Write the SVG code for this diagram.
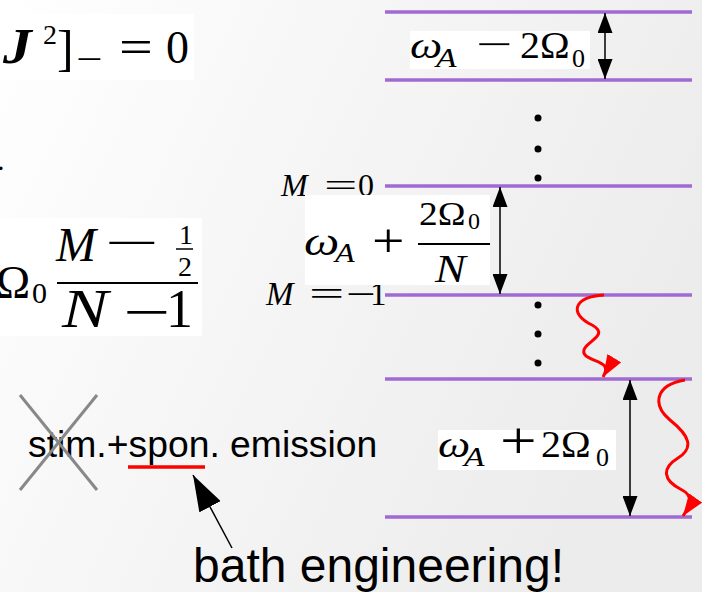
<svg xmlns="http://www.w3.org/2000/svg" width="702" height="592" viewBox="0 0 702 592">
<defs>
<linearGradient id="bg" x1="0" y1="0" x2="1" y2="0.4">
<stop offset="0" stop-color="#ffffff"/>
<stop offset="0.45" stop-color="#f6f6f6"/>
<stop offset="1" stop-color="#ececec"/>
</linearGradient>
<marker id="ah" viewBox="0 0 20 15" refX="20" refY="7.5" markerWidth="20" markerHeight="15" markerUnits="userSpaceOnUse" orient="auto-start-reverse">
<path d="M0,0 L20,7.5 L0,15 z" fill="#000"/>
</marker>
<marker id="rh" viewBox="0 0 22 16" refX="22" refY="8" markerWidth="22" markerHeight="16" markerUnits="userSpaceOnUse" orient="auto">
<path d="M0,0 L22,8 L0,16 z" fill="#ff0000"/>
</marker>
<marker id="bh" viewBox="0 0 36 24" refX="36" refY="12" markerWidth="36" markerHeight="24" markerUnits="userSpaceOnUse" orient="auto">
<path d="M0,0 L36,12 L0,24 z" fill="#000"/>
</marker>
<style>
.m{font-family:"Liberation Serif","DejaVu Serif",serif;fill:#000}
.i{font-style:italic}
.s{font-family:"Liberation Sans",Arial,sans-serif;fill:#000}
.lvl{stroke:#a06ad2;stroke-width:3.5}
.dbl{stroke:#000;stroke-width:1.5;marker-start:url(#ah);marker-end:url(#ah)}
.wave{fill:none;stroke:#ff0000;stroke-width:3;marker-end:url(#rh)}
.box{fill:#ffffff}
</style>
</defs>
<rect width="702" height="592" fill="url(#bg)"/>

<g id="formula-top">
<rect class="box" x="0" y="14" width="194" height="66"/>
<text class="m i" transform="translate(3 63) scale(1.15 1)" font-size="50" font-weight="bold">J</text>
<text class="m" x="43" y="44" font-size="28">2</text>
<text class="m" x="57" y="65" font-size="50">]</text>
<text class="m" transform="translate(76 71) scale(1.3 1)" font-size="36">−</text>
<text class="m" transform="translate(119 63) scale(1.25 1)" font-size="48">=</text>
<text class="m" x="166" y="63" font-size="46">0</text>
</g>

<g id="formula-mid">
<text class="m" x="-3" y="170" font-size="30">.</text>
<rect class="box" x="0" y="218" width="202" height="118"/>
<text class="m" x="-4" y="298" font-size="46">Ω</text>
<text class="m" x="32" y="303" font-size="30">0</text>
<text class="m i" x="56" y="261" font-size="48">M</text>
<text class="m" transform="translate(105 258) scale(2.1 1)" font-size="46">−</text>
<text class="m" x="179" y="244" font-size="28">1</text>
<line x1="176" y1="249" x2="193" y2="249" stroke="#000" stroke-width="1.5"/>
<text class="m" x="178" y="276" font-size="28">2</text>
<line x1="57" y1="283" x2="198" y2="283" stroke="#000" stroke-width="2"/>
<text class="m i" transform="translate(62 327) scale(1.28 1)" font-size="54">N</text>
<text class="m" transform="translate(123 330) scale(1.55 1)" font-size="54">−</text>
<text class="m" x="166" y="327" font-size="54">1</text>
</g>

<g id="stim-spon">
<text class="s" x="28" y="457" font-size="37.3">stim.+spon. emission</text>
<line x1="128" y1="467" x2="205" y2="467" stroke="#ff0000" stroke-width="3.5"/>
<line x1="20" y1="395" x2="97" y2="490" stroke="#888" stroke-width="3"/>
<line x1="97" y1="395" x2="20" y2="490" stroke="#888" stroke-width="3"/>
</g>

<g id="bath">
<text class="s" x="193" y="582" font-size="48">bath engineering!</text>
</g>

<g id="levels">
<line class="lvl" x1="385" y1="12" x2="692" y2="12"/>
<line class="lvl" x1="385" y1="80" x2="692" y2="80"/>
<line class="lvl" x1="385" y1="186" x2="692" y2="186"/>
<line class="lvl" x1="385" y1="295" x2="692" y2="295"/>
<line class="lvl" x1="385" y1="379" x2="692" y2="379"/>
<line class="lvl" x1="385" y1="517" x2="692" y2="517"/>
</g>

<g id="dots" fill="#000">
<circle cx="538" cy="118" r="3.5"/>
<circle cx="538" cy="149" r="3.5"/>
<circle cx="538" cy="178" r="3.5"/>
<circle cx="538" cy="305" r="3.5"/>
<circle cx="538" cy="334" r="3.5"/>
<circle cx="538" cy="363" r="3.5"/>
</g>

<g id="label-top">
<rect class="box" x="410" y="31" width="180" height="38"/>
<text class="m i" transform="translate(410 58) scale(1.2 1)" font-size="38">ω</text>
<text class="m i" transform="translate(436 67) scale(1.2 1)" font-size="28">A</text>
<text class="m" transform="translate(476 57) scale(1.7 1)" font-size="38">−</text>
<text class="m" transform="translate(520 58) scale(1.05 1)" font-size="38">2Ω</text>
<text class="m" x="572" y="67" font-size="26">0</text>
</g>

<g id="label-m0">
<text class="m i" x="281" y="196" font-size="32">M</text>
<text class="m" transform="translate(324 196) scale(1.85 1)" font-size="32">=</text>
<text class="m" x="358" y="196" font-size="32">0</text>
</g>
<g id="label-m1">
<text class="m i" x="266" y="305" font-size="33">M</text>
<text class="m" transform="translate(309 305) scale(1.9 1)" font-size="33">=</text>
<text class="m" transform="translate(346 305) scale(1.6 1)" font-size="33">−</text>
<text class="m" x="370" y="305" font-size="33">1</text>
</g>

<g id="label-mid">
<rect class="box" x="305" y="195" width="185" height="90"/>
<text class="m i" transform="translate(304 255) scale(1.25 1)" font-size="40">ω</text>
<text class="m i" transform="translate(335 262) scale(1.15 1)" font-size="28">A</text>
<text class="m" transform="translate(372 257) scale(1.2 1)" font-size="48">+</text>
<text class="m" transform="translate(419 225) scale(1.1 1)" font-size="34">2Ω</text>
<text class="m" x="468" y="229" font-size="24">0</text>
<line x1="418" y1="244" x2="490" y2="244" stroke="#000" stroke-width="1.8"/>
<text class="m i" transform="translate(435 282) scale(1.15 1)" font-size="40">N</text>
</g>

<g id="label-bot">
<rect class="box" x="438" y="430" width="178" height="40"/>
<text class="m i" transform="translate(438 457) scale(1.2 1)" font-size="38">ω</text>
<text class="m i" transform="translate(464 466) scale(1.2 1)" font-size="28">A</text>
<text class="m" transform="translate(500 458) scale(1.25 1)" font-size="52">+</text>
<text class="m" transform="translate(541 457) scale(1.05 1)" font-size="38">2Ω</text>
<text class="m" x="596" y="466" font-size="26">0</text>
</g>

<g id="connectors">
<line class="dbl" x1="605" y1="13" x2="605" y2="79"/>
<line class="dbl" x1="500" y1="187" x2="500" y2="294"/>
<line class="dbl" x1="630" y1="380" x2="630" y2="516"/>
<path class="wave" d="M604,295 C574,297 568,313 592,325 C614,337 574,344 586,356 C596,363 612,362 603,377"/>
<path class="wave" d="M685,380 C655,385 652,405 670,420 C690,436 694,448 678,458 C662,468 662,480 682,490 C694,496 690,506 683,516"/>
<line x1="232" y1="548" x2="193" y2="475" stroke="#000" stroke-width="1.5" marker-end="url(#bh)"/>
</g>
</svg>
